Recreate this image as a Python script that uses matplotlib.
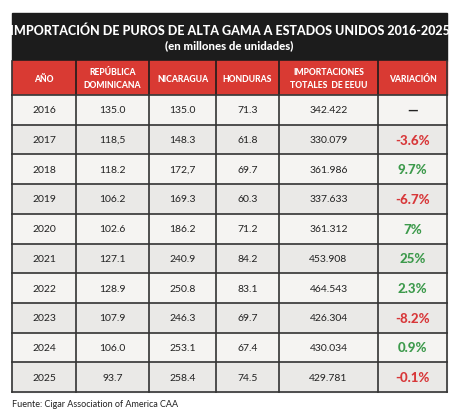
import matplotlib
matplotlib.use("Agg")
import matplotlib.pyplot as plt
from matplotlib.patches import Rectangle

title = "IMPORTACIÓN DE PUROS DE ALTA GAMA A ESTADOS UNIDOS 2016-2025"
subtitle = "(en millones de unidades)"
headers = ["AÑO", "REPÚBLICA\nDOMINICANA", "NICARAGUA", "HONDURAS", "IMPORTACIONES\nTOTALES  DE EEUU", "VARIACIÓN"]
years = ["2016", "2017", "2018", "2019", "2020", "2021", "2022", "2023", "2024", "2025"]
dominicana = ["135.0", "118,5", "118.2", "106.2", "102.6", "127.1", "128.9", "107.9", "106.0", "93.7"]
nicaragua = ["135.0", "148.3", "172,7", "169.3", "186.2", "240.9", "250.8", "246.3", "253.1", "258.4"]
honduras = ["71.3", "61.8", "69.7", "60.3", "71.2", "84.2", "83.1", "69.7", "67.4", "74.5"]
totales = ["342.422", "330.079", "361.986", "337.633", "361.312", "453.908", "464.543", "426.304", "430.034", "429.781"]
variacion = ["—", "-3.6%", "9.7%", "-6.7%", "7%", "25%", "2.3%", "-8.2%", "0.9%", "-0.1%"]
footer = "Fuente: Cigar Association of America CAA"

W, H = 466, 414
fig = plt.figure(figsize=(W/100, H/100), dpi=100)
ax = fig.add_axes([0, 0, 1, 1])
ax.set_xlim(0, W); ax.set_ylim(H, 0); ax.axis("off")
fam = ["Lato", "DejaVu Sans"]

cols = [12, 76, 149, 216, 279, 378, 447]
x0, x1 = cols[0], cols[-1]
ax.add_patch(Rectangle((x0, 14), x1-x0, 48, color="#1c1c1c"))
ax.text((x0+x1)/2, 31, title, color="white", ha="center", va="center", fontsize=9, fontweight="black", family=fam)
ax.text((x0+x1)/2, 46, subtitle, color="white", ha="center", va="center", fontsize=8.2, fontweight="black", family=fam)

hy0, hy1 = 62, 96
ax.add_patch(Rectangle((x0, hy0), x1-x0, hy1-hy0, color="#d93a33"))
for i, h in enumerate(headers):
    ax.text((cols[i]+cols[i+1])/2, (hy0+hy1)/2, h, color="white", ha="center", va="center",
            fontsize=6.2, fontweight="black", family=fam, linespacing=1.6)
for c in cols[1:-1]:
    ax.plot([c, c], [hy0, hy1], color="#1c1c1c", lw=1.2)

rh = (393 - hy1) / len(years)
for r in range(len(years)):
    y = hy1 + r*rh
    ax.add_patch(Rectangle((x0, y), x1-x0, rh, color="#f5f4f2" if r % 2 == 0 else "#eae9e7"))
    vals = [years[r], dominicana[r], nicaragua[r], honduras[r], totales[r]]
    for i, v in enumerate(vals):
        ax.text((cols[i]+cols[i+1])/2, y+rh/2, v, ha="center", va="center", fontsize=7.5, color="#222", family=fam)
    v = variacion[r]
    col = "#222" if v == "—" else ("#d8383a" if v.startswith("-") else "#3d9a4c")
    ax.text((cols[5]+cols[6])/2, y+rh/2, v, ha="center", va="center", fontsize=9.5, fontweight="black", color=col, family=fam)
    ax.plot([x0, x1], [y, y], color="#333", lw=1.2)
ax.plot([x0, x1], [393, 393], color="#333", lw=1.2)
for c in cols:
    ax.plot([c, c], [hy1, 393], color="#333", lw=1.2)
ax.plot([x0, x0], [hy0, hy1], color="#333", lw=1.2)
ax.plot([x1, x1], [hy0, hy1], color="#333", lw=1.2)

ax.text(12, 405, footer, ha="left", va="center", fontsize=6.5, color="#222", family=fam)
fig.savefig("out.png", dpi=100, facecolor="white")
